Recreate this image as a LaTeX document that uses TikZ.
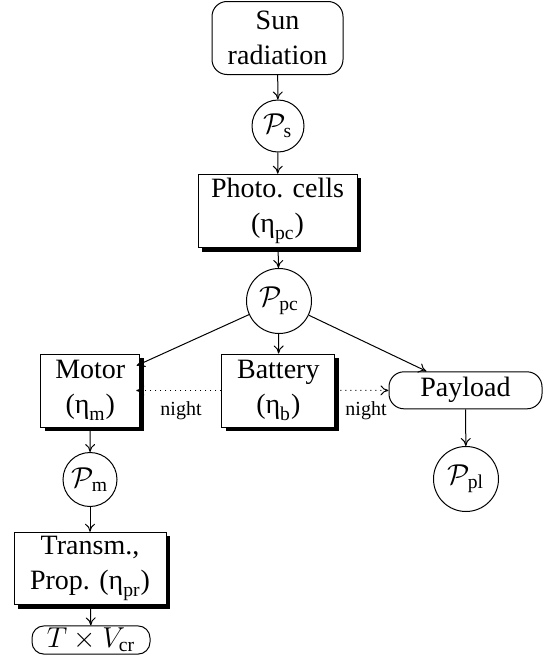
\documentclass[tikz,border=0pt]{standalone}
\usepackage{fontspec}
\setmainfont{Liberation Serif}
\usepackage{amsmath}
\usetikzlibrary{shadows,arrows.meta}

\tikzset{every picture/.style={line width=0.5pt}}

\begin{document}
\begin{tikzpicture}[x=0.5pt,y=0.5pt,yscale=-1,xscale=1,
    >={To[length=4pt,width=5pt]},
    txt/.style={font=\fontsize{14}{17.5}\selectfont, align=center},
    block/.style={txt, draw, fill=white, inner sep=2pt, drop shadow={shadow xshift=2pt, shadow yshift=-2pt, fill=black, opacity=1}},
    ends/.style={txt, draw, fill=white, rounded corners=7.5pt, inner sep=2pt},
    power/.style={txt, draw, circle, inner sep=1pt},
    nightlabel/.style={font=\fontsize{10}{12}\selectfont, inner sep=0.75pt}]
    \useasboundingbox (0,0) rectangle (549,664);

    %Shape: Rounded Rect [id:sun]
    \node [ends, minimum width=65.5pt, minimum height=36.5pt] (sun) at (277.5,38) {Sun\\radiation};
    %Shape: Circle [id:ps]
    \node [power, minimum size=26pt] (ps) at (278,126) {$\mathcal{P}_{\text{s}}$};
    %Shape: Rectangle [id:cells]
    \node [block, minimum width=79.5pt, minimum height=36pt] (cells) at (277.5,211) {Photo. cells\\($\text{η}_{\text{pc}}$)};
    %Shape: Circle [id:ppc]
    \node [power, minimum size=32.5pt] (ppc) at (279,301) {$\mathcal{P}_{\text{pc}}$};
    %Shape: Rectangle [id:motor]
    \node [block, minimum width=49.5pt, minimum height=36.5pt] (motor) at (90.3,390.5) {Motor\\($\text{η}_{\text{m}}$)};
    %Shape: Rectangle [id:battery]
    \node [block, minimum width=56.5pt, minimum height=36.5pt] (battery) at (278.3,390.5) {Battery\\($\text{η}_{\text{b}}$)};
    %Shape: Rounded Rect [id:payload]
    \node [ends, minimum width=76.5pt, minimum height=18.5pt] (payload) at (465.5,390.3) {Payload};
    %Shape: Circle [id:pm]
    \node [power, minimum size=27pt] (pm) at (90,479.5) {$\mathcal{P}_{\text{m}}$};
    %Shape: Circle [id:ppl]
    \node [power, minimum size=32.5pt] (ppl) at (466,479) {$\mathcal{P}_{\text{pl}}$};
    %Shape: Rectangle [id:transm]
    \node [block, minimum width=76pt, minimum height=35.5pt] (transm) at (90,568.5) {Transm.,\\Prop. ($\text{η}_{\text{pr}}$)};
    %Shape: Rounded Rect [id:thrust]
    \node [ends, rounded corners=6pt, inner sep=1pt, minimum width=59pt, minimum height=13.5pt] (thrust) at (91,640) {$T\times V_{\text{cr}}$};

    %Straight Lines
    \draw [->] (sun) -- (ps);
    \draw [->] (ps) -- (cells);
    \draw [->] (cells) -- (ppc);
    \draw [->, shorten >=-2pt] (ppc) -- (motor.28);
    \draw [->] (ppc) -- (battery);
    \draw [->] (ppc) -- (payload.154);
    \draw [->] (motor) -- (pm);
    \draw [->] (pm) -- (transm);
    \draw [->] (transm) -- (thrust);
    \draw [->] (payload) -- (ppl);
    %Dotted Lines
    \draw [->, dotted, shorten >=-2pt] (battery) -- (motor);
    \draw [->, dotted] (battery) -- (payload);

    % Text Node
    \node [nightlabel] (night1) at (181,411) {night};
    % Text Node
    \node [nightlabel] (night2) at (366,411) {night};
\end{tikzpicture}
\end{document}
